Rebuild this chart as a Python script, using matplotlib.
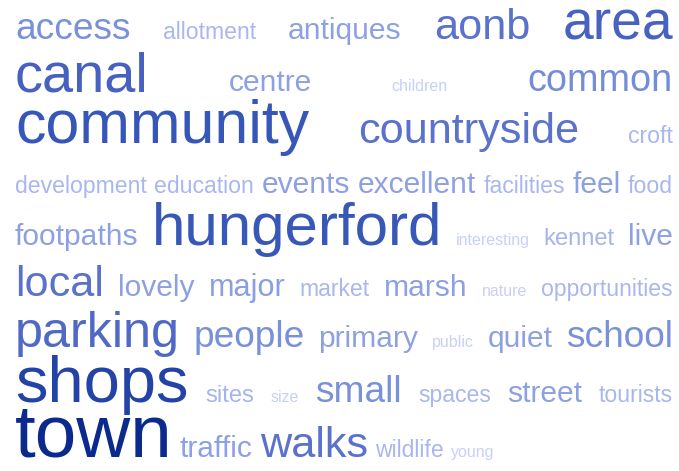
import matplotlib
matplotlib.use("Agg")
import matplotlib.pyplot as plt
from matplotlib.colors import LinearSegmentedColormap
from matplotlib.font_manager import FontProperties
from matplotlib.textpath import TextPath

# ---------------------------------------------------------------------------
# Data: words of the tag cloud (alphabetical) and their relative weights
# ---------------------------------------------------------------------------
words = [
    "access", "allotment", "antiques", "aonb", "area",
    "canal", "centre", "children", "common",
    "community", "countryside", "croft",
    "development", "education", "events", "excellent", "facilities", "feel", "food",
    "footpaths", "hungerford", "interesting", "kennet", "live",
    "local", "lovely", "major", "market", "marsh", "nature", "opportunities",
    "parking", "people", "primary", "public", "quiet", "school",
    "shops", "sites", "size", "small", "spaces", "street", "tourists",
    "town", "traffic", "walks", "wildlife", "young",
]
counts = [
    4.0, 2.0, 3.0, 4.9, 6.6,
    6.7, 3.0, 1.0, 4.1,
    7.4, 4.9, 2.0,
    2.0, 2.0, 3.0, 3.0, 2.0, 3.0, 2.0,
    3.0, 7.3, 1.0, 2.1, 3.0,
    4.9, 3.0, 3.1, 2.0, 3.0, 1.0, 2.0,
    5.9, 4.0, 3.0, 1.0, 3.0, 4.0,
    8.0, 2.1, 1.0, 4.0, 2.0, 3.0, 2.0,
    9.4, 3.0, 4.9, 2.0, 1.0,
]

# ---------------------------------------------------------------------------
# Layout settings
# ---------------------------------------------------------------------------
W, H, DPI = 679, 471, 100
LEFT, RIGHT, TOP, BOTTOM = 15, 673, 8, 460
MIN_GAP, LAST_GAP = 3, 7
INK_WEIGHT = 0.2           # how much row ink height affects line pitch
FAMILY = "Liberation Sans"


def font_px(c):
    return 9 + 7 * c


cmap = LinearSegmentedColormap.from_list(
    "tags",
    [(0.0, "#c8d0f8"), (0.12, "#a8b6ee"), (0.24, "#8c9fe2"),
     (0.36, "#7890da"), (0.46, "#5a72cc"), (0.67, "#4862c0"),
     (0.77, "#3556b6"), (0.83, "#2444a8"), (1.0, "#0c2a8e")])

fig = plt.figure(figsize=(W / DPI, H / DPI), dpi=DPI)
ax = fig.add_axes([0, 0, 1, 1])
ax.set_xlim(0, W)
ax.set_ylim(H, 0)
ax.axis("off")

cmin, cmax = min(counts), max(counts)
fp = FontProperties(family=FAMILY)
texts, asc, desc = [], [], []
for w, c in zip(words, counts):
    px = font_px(c)
    t = ax.text(0, 0, w, fontsize=px * 72 / DPI, family=FAMILY,
                color=cmap((c - cmin) / (cmax - cmin)),
                ha="left", va="baseline")
    texts.append(t)
    ext = TextPath((0, 0), w, size=px, prop=fp).get_extents()
    asc.append(ext.y1)
    desc.append(-min(ext.y0, 0))

fig.canvas.draw()
renderer = fig.canvas.get_renderer()
widths = [t.get_window_extent(renderer).width for t in texts]

# greedy line breaking
rows, cur, cur_w = [], [], 0
avail = RIGHT - LEFT
for i, wd in enumerate(widths):
    need = wd if not cur else cur_w + MIN_GAP + wd
    if cur and need > avail:
        rows.append(cur)
        cur, cur_w = [i], wd
    else:
        cur.append(i)
        cur_w = need
rows.append(cur)

# line pitch: fixed leading plus part of the ink height between rows
n = len(rows)
row_asc = [max(asc[i] for i in row) for row in rows]
row_desc = [max(desc[i] for i in row) for row in rows]
b0 = TOP + row_asc[0]
bn = BOTTOM - row_desc[-1]
ink = [row_desc[r - 1] + row_asc[r] for r in range(1, n)]
lead = ((bn - b0) - INK_WEIGHT * sum(ink)) / (n - 1)
baselines = [b0]
for v in ink:
    baselines.append(baselines[-1] + lead + INK_WEIGHT * v)

for r, row in enumerate(rows):
    total = sum(widths[i] for i in row)
    if r < n - 1 and len(row) > 1:
        gap = (avail - total) / (len(row) - 1)
    else:
        gap = LAST_GAP
    x = LEFT
    for i in row:
        texts[i].set_position((x, baselines[r]))
        x += widths[i] + gap

fig.savefig("out.png", dpi=DPI, facecolor="white")
